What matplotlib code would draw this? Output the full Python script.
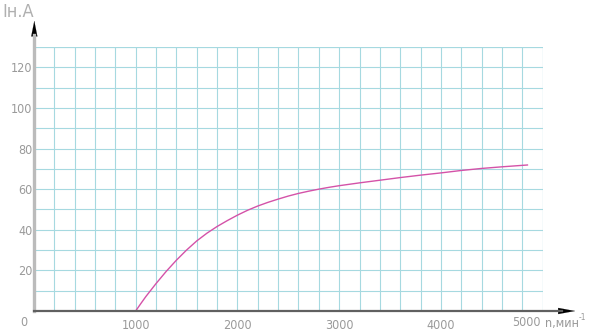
import matplotlib
matplotlib.use("Agg")
from matplotlib import pyplot as plt
from matplotlib.ticker import MultipleLocator

speed = [1000, 1050, 1100, 1200, 1300, 1400, 1500, 1600, 1700, 1800, 1900,
         2000, 2100, 2200, 2300, 2400, 2500, 2600, 2700, 2800, 2900, 3000,
         3200, 3400, 3600, 3800, 4000, 4200, 4400, 4600, 4850]
current = [0, 3.6, 7.1, 13.5, 19.5, 25, 30, 34.5, 38.3, 41.6, 44.5,
           47.2, 49.6, 51.7, 53.5, 55.1, 56.6, 57.9, 59.0, 60.0, 60.9, 61.7,
           63.1, 64.4, 65.7, 66.9, 68.0, 69.2, 70.2, 71.0, 71.9]

x_ticks = [1000, 2000, 3000, 4000]
y_ticks = [20, 40, 60, 80, 100, 120]

fonts = ['DejaVu Sans']
txt = '#9a9a9a'
fkw = dict(family=fonts, fontsize=9, color=txt, fontstretch='condensed',
           fontweight='light')

fig = plt.figure(figsize=(5.92, 3.32), dpi=100)
ax = fig.add_axes([33.9 / 592, 21 / 332, 508.8 / 592, 264 / 332])
ax.set_xlim(0, 5000)
ax.set_ylim(0, 130)

ax.xaxis.set_minor_locator(MultipleLocator(200))
ax.yaxis.set_minor_locator(MultipleLocator(10))
ax.set_xticks(x_ticks)
ax.set_yticks(y_ticks)
ax.grid(which='both', color='#a6d9e0', linewidth=0.8)
ax.set_axisbelow(True)
ax.tick_params(which='both', length=0, colors=txt)
ax.tick_params(axis='x', pad=6)
ax.tick_params(axis='y', pad=1)
for lab in ax.get_xticklabels() + ax.get_yticklabels():
    lab.set_family(fonts)
    lab.set_fontsize(9)
    lab.set_color(txt)
    lab.set_fontstretch('condensed')
    lab.set_fontweight('light')
for s in ax.spines.values():
    s.set_visible(False)
# right and top borders of the grid
ax.axvline(5000, color='#a6d9e0', linewidth=0.8)
ax.axhline(130, color='#a6d9e0', linewidth=0.8)

ax.plot(speed, current, color='#d452a8', linewidth=1.0)

# axes with arrows (figure pixels)
def px(x, y):
    return (x / 592, 1 - y / 332)

fig.add_artist(plt.Line2D([px(34, 0)[0]] * 2, [px(0, 311)[1], px(0, 35)[1]],
                          color='#bbbbbb', linewidth=2.4))
fig.add_artist(plt.Line2D([px(34, 0)[0], px(562, 0)[0]], [px(0, 311)[1]] * 2,
                          color='#606060', linewidth=1.6))
ax.annotate('', xy=px(34.3, 18), xytext=px(34.3, 36), xycoords='figure fraction',
            arrowprops=dict(arrowstyle='-|>,head_length=1.1,head_width=0.22',
                            color='black', lw=0.1))
ax.annotate('', xy=px(578, 311), xytext=px(559, 311), xycoords='figure fraction',
            arrowprops=dict(arrowstyle='-|>,head_length=1.2,head_width=0.22',
                            color='black', lw=0.1))

fig.text(*px(24, 323), '0', ha='center', va='center', **fkw)
fig.text(*px(526, 323), '5000', ha='center', va='center', **fkw)
fig.text(*px(545, 323), 'n,мин', ha='left', va='center', **fkw)
fig.text(*px(579, 318), '-1', ha='left', va='center',
         **{**fkw, 'fontsize': 6})
fig.text(*px(2, 12), 'Iн.А', ha='left', va='center',
         **{**fkw, 'fontsize': 13, 'color': '#b0b0b0'})

fig.savefig('out.png', dpi=100)
